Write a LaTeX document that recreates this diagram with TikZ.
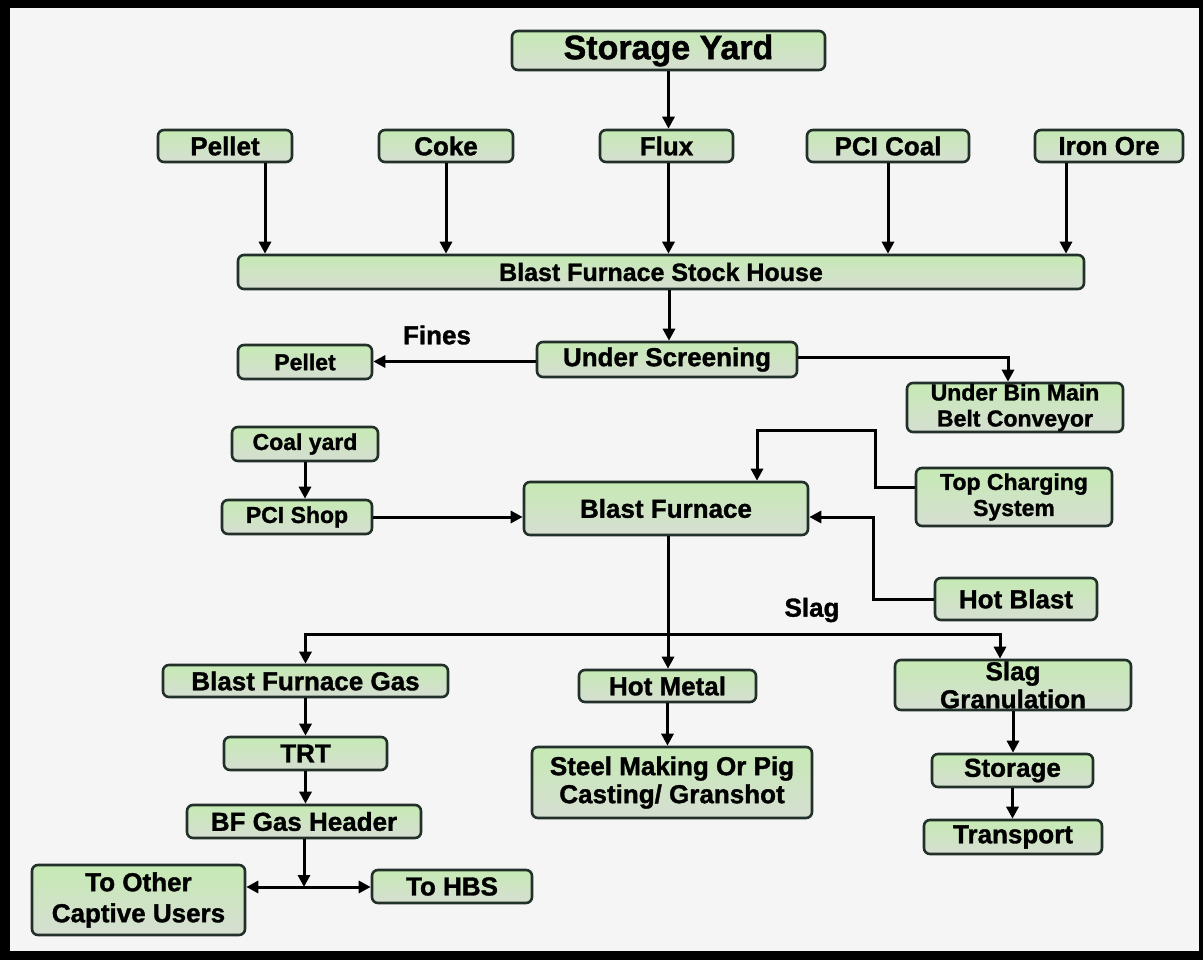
\documentclass[tikz,border=0pt]{standalone}
\usepackage{fontspec}
\setmainfont{Liberation Sans}[BoldFeatures={FakeBold=1.3}]
\usetikzlibrary{arrows.meta}
\definecolor{bgc}{HTML}{F5F5F5}
\definecolor{boxtop}{HTML}{C6EAB4}
\definecolor{boxbot}{HTML}{D6DED2}
\definecolor{boxline}{HTML}{22302A}
\tikzset{
  box/.style={draw=boxline, line width=2.6pt, rounded corners=6pt, top color=boxtop, bottom color=boxbot,
    inner sep=0pt, align=center, font=\bfseries\fontsize{26}{28}\selectfont},
  smallbox/.style={box, font=\bfseries\fontsize{23}{26}\selectfont},
  bigbox/.style={box, font=\bfseries\fontsize{34}{36}\selectfont},
  arr/.style={line width=3pt, -{Triangle[length=12pt,width=12pt]}},
  darr/.style={line width=3pt, {Triangle[length=12pt,width=12pt]}-{Triangle[length=12pt,width=12pt]}},
  lbl/.style={font=\bfseries\fontsize{26}{28}\selectfont, inner sep=0pt}
}
\begin{document}
\begin{tikzpicture}[x=1pt,y=-1pt]
\useasboundingbox (0,0) rectangle (1203,960);
\fill[black] (0,0) rectangle (1203,960);
\fill[bgc] (10,8) rectangle (1199,951);

% nodes
\node[bigbox, minimum width=313pt, minimum height=39pt] (sy) at (668.5,50.5) {Storage Yard};
\node[box, minimum width=134pt, minimum height=32pt] (p1) at (225,146) {Pellet};
\node[box, minimum width=134pt, minimum height=32pt] (coke) at (446,146) {Coke};
\node[box, minimum width=133pt, minimum height=32pt] (flux) at (666.5,146) {Flux};
\node[box, minimum width=162pt, minimum height=32pt] (pci) at (888,146) {PCI Coal};
\node[box, minimum width=148pt, minimum height=32pt] (ore) at (1109,146) {Iron Ore};
\node[box, font=\bfseries\fontsize{25}{27}\selectfont, minimum width=846pt, minimum height=34pt] (sh) at (661,272) {Blast Furnace Stock House};
\node[box, minimum width=260pt, minimum height=35pt] (us) at (667,359.5) {Under Screening};
\node[smallbox, minimum width=134pt, minimum height=34pt] (p2) at (305,362) {Pellet};
\node[smallbox, minimum width=216pt, minimum height=49pt] (ub) at (1015,407.5) {Under Bin Main\\Belt Conveyor};
\node[smallbox, minimum width=146pt, minimum height=34pt] (cy) at (305,444) {Coal yard};
\node[smallbox, minimum width=150pt, minimum height=34pt] (ps) at (297,517) {PCI Shop};
\node[box, minimum width=284pt, minimum height=53pt] (bf) at (666,508.5) {Blast Furnace};
\node[smallbox, minimum width=196pt, minimum height=58pt] (tcs) at (1014,497) {Top Charging\\System};
\node[box, minimum width=162pt, minimum height=42pt] (hb) at (1016,599) {Hot Blast};
\node[box, minimum width=285pt, minimum height=32pt] (bfg) at (305.5,681) {Blast Furnace Gas};
\node[box, minimum width=177pt, minimum height=32pt] (hm) at (667.5,686) {Hot Metal};
\node[box, minimum width=280pt, minimum height=71pt] (sm) at (672,782.5) {Steel Making Or Pig\\Casting/ Granshot};
\node[box, minimum width=236pt, minimum height=50pt] (sg) at (1013,685) {Slag\\Granulation};
\node[box, minimum width=161pt, minimum height=33pt] (st) at (1012.5,770.5) {Storage};
\node[box, minimum width=178pt, minimum height=34pt] (tr) at (1013,837) {Transport};
\node[box, minimum width=163pt, minimum height=33pt] (trt) at (305.5,753.5) {TRT};
\node[box, minimum width=234pt, minimum height=33pt] (gh) at (304,821.5) {BF Gas Header};
\node[box, font=\bfseries\fontsize{26}{31}\selectfont, minimum width=213pt, minimum height=70pt] (oc) at (138.5,900) {To Other\\Captive Users};
\node[box, minimum width=160pt, minimum height=33pt] (hbs) at (452,886.5) {To HBS};

\node[lbl] (fines) at (437,335) {Fines};
\node[lbl] (slag) at (812,610) {Slag};

% coordinates
\coordinate (tc1) at (875,430);
\coordinate (hb1) at (873,517);
\coordinate (sj) at (669,634);
\coordinate (gj) at (304,887);

% connectors
\draw[arr] (sy.south) -- (sy.south |- flux.north);
\draw[arr] ([xshift=40pt]p1.south) -- ([xshift=40pt]p1.south |- sh.north);
\draw[arr] (coke.south) -- (coke.south |- sh.north);
\draw[arr] ([xshift=2pt]flux.south) -- ([xshift=2pt]flux.south |- sh.north);
\draw[arr] (pci.south) -- (pci.south |- sh.north);
\draw[arr] ([xshift=-43pt]ore.south) -- ([xshift=-43pt]ore.south |- sh.north);
\draw[arr] ([xshift=2pt]us.north |- sh.south) -- ([xshift=2pt]us.north);
\draw[arr] ([yshift=-2pt]us.west) -- ([yshift=-2pt]us.west -| p2.east);
\draw[arr] ([yshift=2pt]us.east) -| ([xshift=-7pt]ub.north);
\draw[arr] (cy.south) -- (cy.south |- ps.north);
\draw[arr] (ps.east) -- (ps.east -| bf.west);
\draw[arr] ([yshift=10pt]tcs.west) -| (tc1) -| ([xshift=91pt]bf.north);
\draw[arr] (hb.west) -| (hb1) -- (hb1 -| bf.east);
\draw[arr] ([xshift=2pt]bf.south) -- ([xshift=2pt]bf.south |- hm.north);
\draw[darr] (bfg.north) |- (sj) -| ([xshift=-13pt]sg.north);
\draw[arr] (hm.south) -- (hm.south |- sm.north);
\draw[arr] (bfg.south) -- (bfg.south |- trt.north);
\draw[arr] (trt.south) -- (trt.south |- gh.north);
\draw[arr] (gh.south) -- (gj);
\draw[darr] (oc.east |- gj) -- (hbs.west |- gj);
\draw[arr] (sg.south) -- (sg.south |- st.north);
\draw[arr] (st.south) -- (st.south |- tr.north);
\end{tikzpicture}
\end{document}
